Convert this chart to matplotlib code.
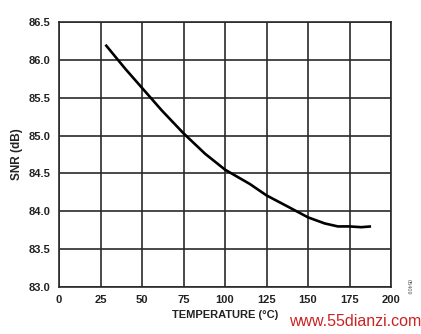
import matplotlib
matplotlib.use("Agg")
import matplotlib.pyplot as plt

temperature = [28, 40, 50, 62, 75, 88, 100, 115, 125, 138, 150, 160, 168, 175, 182, 188]
snr = [86.20, 85.88, 85.63, 85.33, 85.03, 84.76, 84.55, 84.36, 84.21, 84.06, 83.92, 83.84, 83.80, 83.80, 83.79, 83.80]
x_ticks = [0, 25, 50, 75, 100, 125, 150, 175, 200]
y_ticks = [83.0, 83.5, 84.0, 84.5, 85.0, 85.5, 86.0, 86.5]

plt.rcParams['font.family'] = ['Liberation Sans', 'DejaVu Sans']

fig = plt.figure(figsize=(4.21, 3.34), dpi=100)
ax = fig.add_axes([59/421, 1 - 287/334, 332/421, 265/334])

ax.plot(temperature, snr, color='black', lw=1.9, solid_capstyle='butt')
ax.set_xlim(0, 200)
ax.set_ylim(83.0, 86.5)
ax.set_xticks(x_ticks)
ax.set_yticks(y_ticks)
ax.set_xticklabels([str(t) for t in x_ticks], fontsize=8, fontweight='bold', color='#222222')
ax.set_yticklabels([f"{v:.1f}" for v in y_ticks], fontsize=8, fontweight='bold', color='#222222')
ax.tick_params(axis='y', length=0, pad=6)
ax.tick_params(axis='x', length=0, pad=6)
ax.grid(True, color='#2a2a2a', lw=1.2)
for s in ax.spines.values():
    s.set_color('#2a2a2a')
    s.set_linewidth(1.2)

ax.set_xlabel("TEMPERATURE (°C)", fontsize=8, fontweight='bold', color='#222222', labelpad=3)
ax.set_ylabel("SNR (dB)", fontsize=8.5, fontweight='bold', color='#222222', labelpad=4)

fig.text(408/421, 1 - 287/334, "05409", rotation=270, fontsize=4, color='#555555', ha='center', va='center')
fig.text(355/421, 1 - 322/334, "www.55dianzi.com", fontsize=11.5, color='#cc2222', ha='center', va='center')

fig.savefig("out.png", dpi=100)
